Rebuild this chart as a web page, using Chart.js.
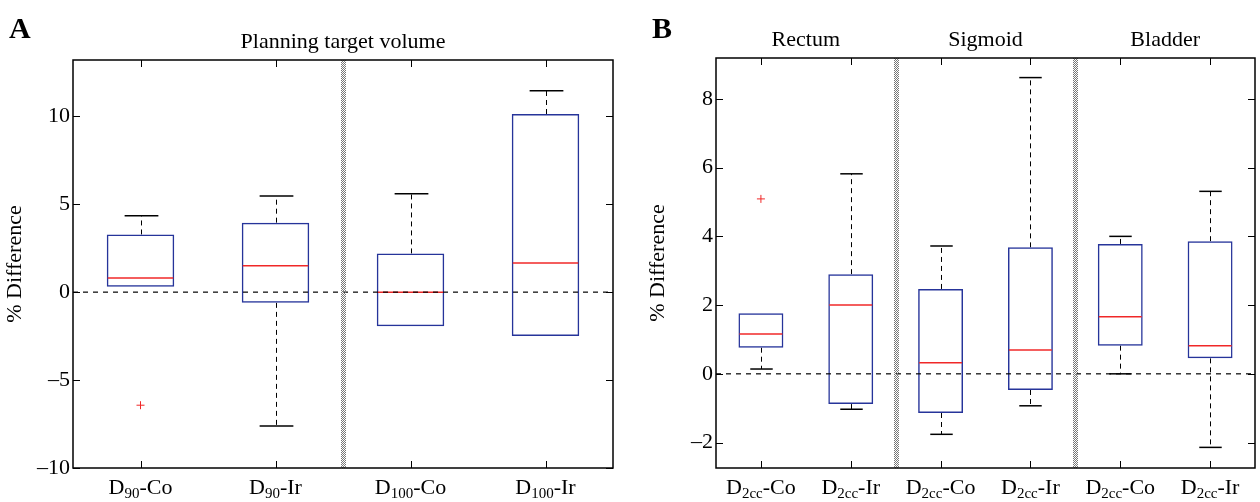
<!DOCTYPE html>
<html>
<head>
<meta charset="utf-8">
<script src="https://cdn.jsdelivr.net/npm/chart.js@4.4.1/dist/chart.umd.min.js"></script>
<style>
  body { margin: 0; background: #fff; }
  .wrap { position: relative; width: 1260px; height: 502px; }
  canvas { position: absolute; top: 0; }
</style>
</head>
<body>
<div class="wrap">
  <canvas id="chartA" width="630" height="502" style="left:0"></canvas>
  <canvas id="chartB" width="630" height="502" style="left:630px"></canvas>
</div>
<script>
// ---- panel A: planning target volume ----
const labelsA = ['D90-Co', 'D90-Ir', 'D100-Co', 'D100-Ir'];
const labelPartsA = [['D', '90', '-Co'], ['D', '90', '-Ir'], ['D', '100', '-Co'], ['D', '100', '-Ir']];
const whiskerLoA = [0.30, -7.61, -1.94, -2.50];
const q1A = [0.30, -0.61, -1.94, -2.50];
const medianA = [0.81, 1.50, 0.00, 1.65];
const q3A = [3.28, 3.95, 2.20, 10.13];
const whiskerHiA = [4.34, 5.47, 5.60, 11.45];
const outliersA = [{ x: 0, y: -6.43 }];
const yTicksA = [-10, -5, 0, 5, 10];

// ---- panel B: organs at risk ----
const groupsB = ['Rectum', 'Sigmoid', 'Bladder'];
const labelsB = ['Rectum Co', 'Rectum Ir', 'Sigmoid Co', 'Sigmoid Ir', 'Bladder Co', 'Bladder Ir'];
const labelPartsB = [['D', '2cc', '-Co'], ['D', '2cc', '-Ir'], ['D', '2cc', '-Co'], ['D', '2cc', '-Ir'], ['D', '2cc', '-Co'], ['D', '2cc', '-Ir']];
const whiskerLoB = [0.14, -1.03, -1.76, -0.93, 0.00, -2.14];
const q1B = [0.76, -0.88, -1.14, -0.47, 0.82, 0.45];
const medianB = [1.16, 2.00, 0.32, 0.69, 1.66, 0.82];
const q3B = [1.76, 2.90, 2.47, 3.68, 3.78, 3.86];
const whiskerHiB = [1.76, 5.82, 3.72, 8.62, 4.00, 5.31];
const outliersB = [{ x: 0, y: 5.09 }];
const yTicksB = [-2, 0, 2, 4, 6, 8];

const FONT = "'Liberation Serif', 'DejaVu Serif', serif";
const BLUE = '#26349a';
const RED = '#f02828';

function boxPlugin(cfg) {
  return {
    id: 'boxExtras',
    beforeDatasetsDraw(chart) {
      const { ctx, scales: { x, y } } = chart;
      const band = x.getPixelForValue(1) - x.getPixelForValue(0);
      const cap = band * 0.125;
      ctx.save();
      ctx.strokeStyle = '#000';
      cfg.q1.forEach((_, i) => {
        const cx = Math.round(x.getPixelForValue(i)) + 0.5;
        const pairs = [[cfg.q3[i], cfg.hi[i]], [cfg.q1[i], cfg.lo[i]]];
        pairs.forEach(([from, to]) => {
          if (from === to) return;
          ctx.lineWidth = 1;
          ctx.setLineDash([5, 4]);
          ctx.beginPath();
          ctx.moveTo(cx, y.getPixelForValue(from));
          ctx.lineTo(cx, y.getPixelForValue(to));
          ctx.stroke();
          ctx.setLineDash([]);
          ctx.lineWidth = 1.5;
          ctx.beginPath();
          ctx.moveTo(cx - cap, y.getPixelForValue(to));
          ctx.lineTo(cx + cap, y.getPixelForValue(to));
          ctx.stroke();
        });
      });
      ctx.restore();
    },
    afterDatasetsDraw(chart) {
      const { ctx, chartArea: a, scales: { x, y } } = chart;
      const band = x.getPixelForValue(1) - x.getPixelForValue(0);
      ctx.save();
      // medians
      ctx.strokeStyle = RED;
      ctx.lineWidth = 1.5;
      cfg.median.forEach((m, i) => {
        const cx = x.getPixelForValue(i);
        ctx.beginPath();
        ctx.moveTo(cx - band * 0.25 + 1, y.getPixelForValue(m));
        ctx.lineTo(cx + band * 0.25 - 1, y.getPixelForValue(m));
        ctx.stroke();
      });
      // zero line
      ctx.strokeStyle = '#000';
      ctx.lineWidth = 1.2;
      ctx.setLineDash([5, 5]);
      ctx.beginPath();
      ctx.moveTo(a.left, y.getPixelForValue(0));
      ctx.lineTo(a.right, y.getPixelForValue(0));
      ctx.stroke();
      ctx.setLineDash([]);
      // group dividers (stippled band)
      ctx.strokeStyle = '#777';
      ctx.lineWidth = 1;
      cfg.dividers.forEach(d => {
        const dx = Math.round((x.getPixelForValue(d - 1) + x.getPixelForValue(d)) / 2);
        [-2, -1, 0, 1, 2].forEach(off => {
          ctx.setLineDash([1, 1]);
          ctx.lineDashOffset = off % 2 === 0 ? 0 : 1;
          ctx.beginPath();
          ctx.moveTo(dx + off + 0.5, a.top);
          ctx.lineTo(dx + off + 0.5, a.bottom);
          ctx.stroke();
        });
        ctx.setLineDash([]);
        ctx.lineDashOffset = 0;
      });
      // frame
      ctx.strokeStyle = '#000';
      ctx.lineWidth = 1.5;
      ctx.strokeRect(a.left, a.top, a.right - a.left, a.bottom - a.top);
      // inward ticks on all four sides
      const tl = 7;
      ctx.lineWidth = 1;
      cfg.q1.forEach((_, i) => {
        const cx = Math.round(x.getPixelForValue(i)) + 0.5;
        ctx.beginPath();
        ctx.moveTo(cx, a.bottom); ctx.lineTo(cx, a.bottom - tl);
        ctx.moveTo(cx, a.top); ctx.lineTo(cx, a.top + tl);
        ctx.stroke();
      });
      y.ticks.forEach(t => {
        const ty = Math.round(y.getPixelForValue(t.value)) + 0.5;
        ctx.beginPath();
        ctx.moveTo(a.left, ty); ctx.lineTo(a.left + tl, ty);
        ctx.moveTo(a.right, ty); ctx.lineTo(a.right - tl, ty);
        ctx.stroke();
      });
      // category labels with subscripts
      ctx.fillStyle = '#000';
      ctx.textBaseline = 'alphabetic';
      ctx.textAlign = 'left';
      cfg.parts.forEach((p, i) => {
        const big = '22px ' + FONT, small = '15px ' + FONT;
        ctx.font = big; const w1 = ctx.measureText(p[0]).width; const w3 = ctx.measureText(p[2]).width;
        ctx.font = small; const w2 = ctx.measureText(p[1]).width;
        let sx = x.getPixelForValue(i) - (w1 + w2 + w3) / 2;
        const by = a.bottom + 26;
        ctx.font = big; ctx.fillText(p[0], sx, by); sx += w1;
        ctx.font = small; ctx.fillText(p[1], sx, by + 4); sx += w2;
        ctx.font = big; ctx.fillText(p[2], sx, by);
      });
      // panel headings
      ctx.textAlign = 'center';
      ctx.font = '22px ' + FONT;
      cfg.headings.forEach(h => {
        const hx = (x.getPixelForValue(h.from) + x.getPixelForValue(h.to)) / 2;
        ctx.fillText(h.text, hx, a.top - 12);
      });
      ctx.textAlign = 'left';
      ctx.font = 'bold 30px ' + FONT;
      ctx.fillText(cfg.letter, cfg.letterX, 38);
      ctx.restore();
    }
  };
}

function makeChart(id, cfg) {
  new Chart(document.getElementById(id), {
    type: 'bar',
    data: {
      labels: cfg.labels,
      datasets: [{
        data: cfg.q1.map((v, i) => [v, cfg.q3[i]]),
        backgroundColor: 'rgba(0,0,0,0)',
        borderColor: BLUE,
        borderWidth: 1.5,
        borderSkipped: false,
        barPercentage: 0.5,
        categoryPercentage: 1.0
      }, {
        type: 'scatter',
        data: cfg.outliers,
        pointStyle: 'cross',
        radius: 4,
        borderColor: RED,
        borderWidth: 1
      }]
    },
    options: {
      responsive: false,
      animation: false,
      devicePixelRatio: 1,
      layout: { padding: cfg.padding },
      plugins: { legend: { display: false }, tooltip: { enabled: false } },
      scales: {
        x: {
          type: 'category',
          offset: true,
          grid: { display: false, drawTicks: false },
          border: { display: false },
          ticks: { display: false },
          afterFit: s => { s.height = 34; }
        },
        y: {
          min: cfg.min,
          max: cfg.max,
          grid: { display: false, drawTicks: false },
          border: { display: false },
          afterBuildTicks: s => { s.ticks = cfg.yTicks.map(v => ({ value: v })); },
          ticks: {
            color: '#000', padding: 3, font: { family: FONT, size: 22 },
            callback: v => (v < 0 ? '\u2013' + Math.abs(v) : String(v))
          },
          title: { display: true, text: '% Difference', color: '#000', font: { family: FONT, size: 22 }, padding: 2 },
          afterFit: s => { s.width = 73; }
        }
      }
    },
    plugins: [boxPlugin(cfg)]
  });
}

makeChart('chartA', {
  labels: labelsA, parts: labelPartsA,
  lo: whiskerLoA, q1: q1A, median: medianA, q3: q3A, hi: whiskerHiA,
  outliers: outliersA, yTicks: yTicksA, min: -10, max: 13.2,
  dividers: [2],
  headings: [{ text: 'Planning target volume', from: 0, to: 3 }],
  letter: 'A', letterX: 9,
  padding: { left: 0, right: 17, top: 60, bottom: 0 }
});

makeChart('chartB', {
  labels: labelsB, parts: labelPartsB,
  lo: whiskerLoB, q1: q1B, median: medianB, q3: q3B, hi: whiskerHiB,
  outliers: outliersB, yTicks: yTicksB, min: -2.74, max: 9.19,
  dividers: [2, 4],
  headings: groupsB.map((g, i) => ({ text: g, from: i * 2, to: i * 2 + 1 })),
  letter: 'B', letterX: 22,
  padding: { left: 13, right: 4, top: 58, bottom: 0 }
});
</script>
</body>
</html>
